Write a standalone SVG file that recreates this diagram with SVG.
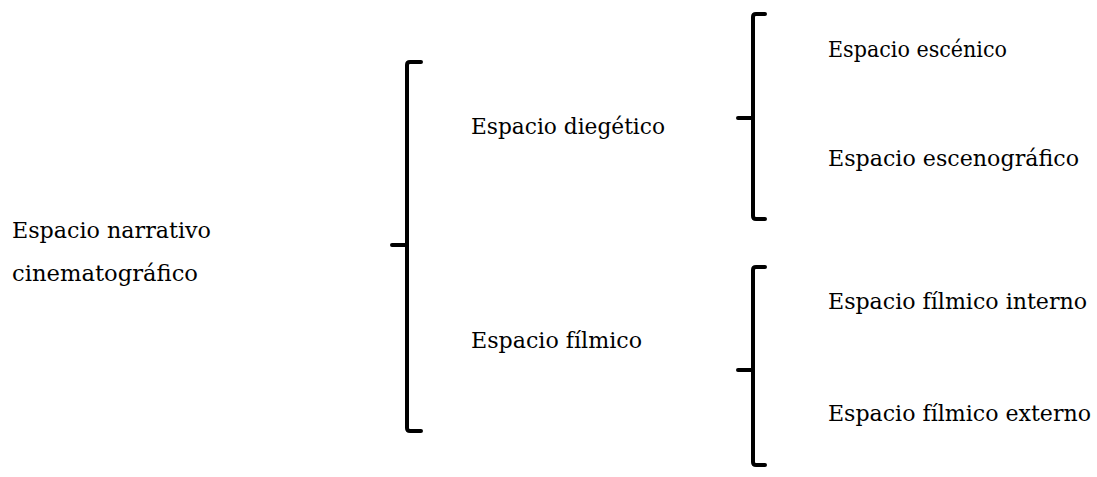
<svg xmlns="http://www.w3.org/2000/svg" width="1097" height="477" viewBox="0 0 1097 477">
<style>
text{font-family:"DejaVu Serif","Liberation Serif",serif;font-size:21.5px;fill:#000}
.br{fill:none;stroke:#000;stroke-width:4;stroke-linecap:round;stroke-linejoin:round}
</style>
<rect width="1097" height="477" fill="#fff"/>
<g id="n-root"><text x="12" y="238" textLength="199" lengthAdjust="spacingAndGlyphs">Espacio narrativo</text><text x="12" y="281" textLength="186" lengthAdjust="spacingAndGlyphs">cinematográfico</text></g>
<g id="n-diegetico"><text x="471" y="134" textLength="194" lengthAdjust="spacingAndGlyphs">Espacio diegético</text></g>
<g id="n-filmico"><text x="471" y="348" textLength="171" lengthAdjust="spacingAndGlyphs">Espacio fílmico</text></g>
<g id="n-escenico"><text x="828" y="57" textLength="179" lengthAdjust="spacingAndGlyphs">Espacio escénico</text></g>
<g id="n-escenografico"><text x="828" y="166" textLength="251" lengthAdjust="spacingAndGlyphs">Espacio escenográfico</text></g>
<g id="n-interno"><text x="828" y="309" textLength="259" lengthAdjust="spacingAndGlyphs">Espacio fílmico interno</text></g>
<g id="n-externo"><text x="828" y="421" textLength="263" lengthAdjust="spacingAndGlyphs">Espacio fílmico externo</text></g>
<g id="connectors">
<path class="br" d="M421 62 H410 Q407 62 407 65 V428 Q407 431 410 431 H421 M392 245 H407"/>
<path class="br" d="M765 14 H756 Q753 14 753 17 V216 Q753 219 756 219 H765 M738 118 H753"/>
<path class="br" d="M765 267 H756 Q753 267 753 270 V462 Q753 465 756 465 H765 M738 370 H753"/>
</g>
</svg>
